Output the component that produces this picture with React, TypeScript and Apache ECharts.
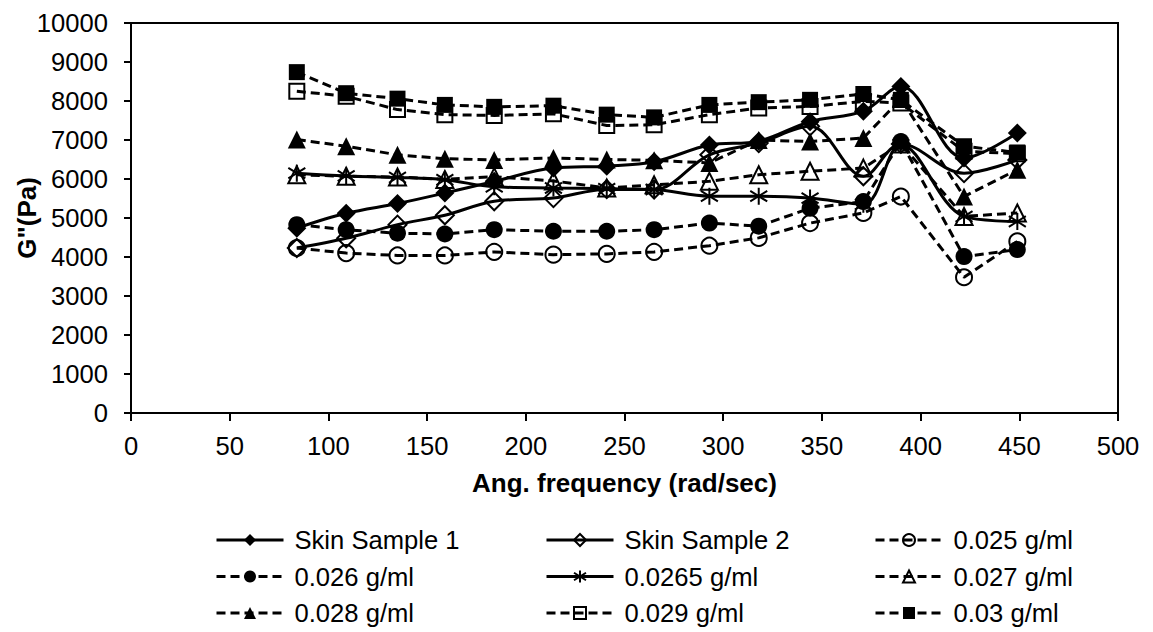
import React, { useEffect, useRef } from "react";
import * as echarts from "echarts";

const freq = [84, 109, 135, 159, 184, 214, 241, 265, 293, 318, 344, 371, 390, 422, 449];

const skin1 = [4740, 5120, 5370, 5640, 5940, 6280, 6330, 6440, 6870, 6970, 7470, 7740, 8370, 6540, 7180];
const skin2 = [4230, 4480, 4830, 5070, 5430, 5510, 5740, 5730, 6620, 6920, 7350, 6070, 6900, 6150, 6490];
const c025 = [4230, 4100, 4040, 4040, 4130, 4060, 4080, 4130, 4290, 4490, 4870, 5130, 5550, 3480, 4400];
const c026 = [4830, 4700, 4610, 4590, 4700, 4660, 4660, 4700, 4870, 4790, 5250, 5420, 6960, 4010, 4190];
const c0265 = [6150, 6080, 6040, 5980, 5800, 5770, 5750, 5730, 5560, 5560, 5510, 5350, 6880, 5040, 4910];
const c027 = [6110, 6070, 6050, 5990, 6060, 5950, 5770, 5850, 5940, 6110, 6200, 6280, 6900, 5040, 5130];
const c028 = [7010, 6840, 6620, 6520, 6490, 6540, 6500, 6480, 6410, 7000, 6960, 7050, 8050, 5550, 6240];
const c029 = [8250, 8120, 7780, 7650, 7630, 7670, 7370, 7390, 7650, 7820, 7860, 7990, 7950, 6710, 6650];
const c030 = [8740, 8200, 8060, 7900, 7850, 7880, 7650, 7580, 7900, 7970, 8030, 8180, 8030, 6840, 6680];

const legendCol1 = ["Skin Sample 1", "0.026 g/ml", "0.028 g/ml"];
const legendCol2 = ["Skin Sample 2", "0.0265 g/ml", "0.029 g/ml"];
const legendCol3 = ["0.025 g/ml", "0.027 g/ml", "0.03 g/ml"];

const FONT = 'Arial, "Liberation Sans", Helvetica, sans-serif';
const STAR = "path://M8,0 L8,16 M1,3 L15,13 M1,13 L15,3";

function mk(
  name: string,
  values: number[],
  symbol: string,
  size: number,
  filled: boolean,
  dashed: boolean,
  smooth: boolean | number
) {
  return {
    type: "line",
    name,
    data: freq.map((f, i) => [f, values[i]]),
    symbol,
    symbolSize: size,
    smooth,
    showSymbol: true,
    lineStyle: {
      color: "#000",
      width: 3,
      type: dashed ? [9, 5] : "solid",
    },
    itemStyle: filled
      ? { color: "#000", borderColor: "#000", borderWidth: symbol === STAR ? 2 : 0 }
      : { color: "rgba(255,255,255,0)", borderColor: "#000", borderWidth: 2 },
    emphasis: { disabled: true },
  };
}

export default function App() {
  const ref = useRef<HTMLDivElement>(null);
  useEffect(() => {
    document.body.style.margin = "0";
    const chart = echarts.init(ref.current!, undefined, { renderer: "svg" });
    const legendCommon = {
      orient: "vertical",
      top: 527,
      itemWidth: 67,
      itemHeight: 15,
      itemGap: 10.5,
      padding: 0,
      selectedMode: false,
      lineStyle: { width: 3 },
      textStyle: {
        fontSize: 25.6,
        fontFamily: FONT,
        color: "#000",
        lineHeight: 26,
        padding: [0, 0, 0, 6],
      },
    };
    chart.setOption({
      animation: false,
      backgroundColor: "#fff",
      grid: {
        left: 131,
        top: 23,
        right: 35,
        bottom: 219,
        show: true,
        borderColor: "#000",
        borderWidth: 2,
        containLabel: false,
        outerBoundsMode: "none",
      },
      xAxis: {
        type: "value",
        min: 0,
        max: 500,
        interval: 50,
        name: "Ang. frequency (rad/sec)",
        nameLocation: "middle",
        nameGap: 57,
        nameMoveOverlap: false,
        nameTextStyle: { fontSize: 26, fontWeight: "bold", fontFamily: FONT, color: "#000", lineHeight: 26 },
        axisLine: { show: true, lineStyle: { color: "#000", width: 2 } },
        axisTick: { show: true, length: 8, inside: false, lineStyle: { color: "#000", width: 2 } },
        axisLabel: { fontSize: 25.6, fontFamily: FONT, color: "#000", margin: 20, lineHeight: 26 },
        splitLine: { show: false },
      },
      yAxis: {
        type: "value",
        min: 0,
        max: 10000,
        interval: 1000,
        name: 'G"(Pa)',
        nameLocation: "middle",
        nameGap: 91,
        nameMoveOverlap: false,
        nameTextStyle: { fontSize: 26, fontWeight: "bold", fontFamily: FONT, color: "#000", lineHeight: 26 },
        axisLine: { show: true, lineStyle: { color: "#000", width: 2 } },
        axisTick: { show: true, length: 7, inside: false, lineStyle: { color: "#000", width: 2 } },
        axisLabel: {
          fontSize: 25.6,
          fontFamily: FONT,
          color: "#000",
          margin: 23,
          formatter: (v: number) => String(v),
        },
        splitLine: { show: false },
      },
      legend: [
        { ...legendCommon, left: 215, data: legendCol1 },
        { ...legendCommon, left: 545, data: legendCol2 },
        { ...legendCommon, left: 874, data: legendCol3 },
      ],
      series: [
        mk("Skin Sample 1", skin1, "diamond", 19, true, false, 0.35),
        mk("Skin Sample 2", skin2, "diamond", 18, false, false, 0.35),
        mk("0.025 g/ml", c025, "circle", 16, false, true, false),
        mk("0.026 g/ml", c026, "circle", 17, true, true, false),
        mk("0.0265 g/ml", c0265, STAR, 17, true, false, 0.35),
        mk("0.027 g/ml", c027, "triangle", 17, false, true, false),
        mk("0.028 g/ml", c028, "triangle", 18, true, true, false),
        mk("0.029 g/ml", c029, "rect", 15, false, true, false),
        mk("0.03 g/ml", c030, "rect", 16, true, true, false),
      ],
    });
    return () => chart.dispose();
  }, []);
  return <div ref={ref} style={{ width: 1153, height: 632 }} />;
}
